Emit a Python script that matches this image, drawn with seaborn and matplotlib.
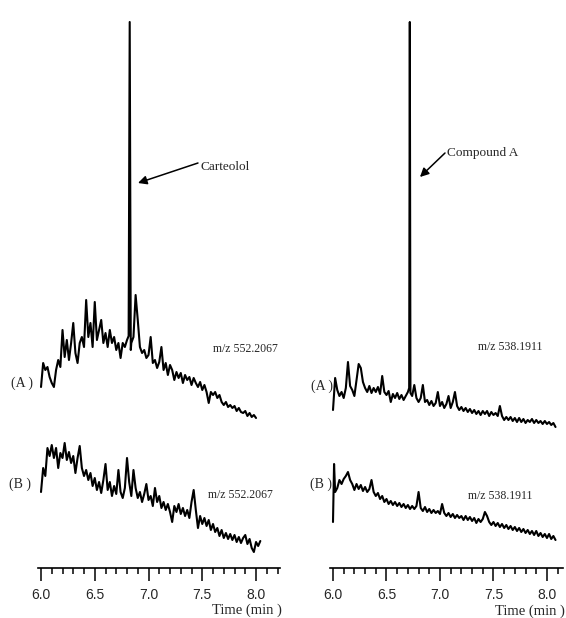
import matplotlib
matplotlib.use("Agg")
import matplotlib.pyplot as plt
import seaborn as sns
import pandas as pd
from matplotlib.ticker import FixedLocator

# ---------------- data (signal in arbitrary units) ----------------
time_la = [6.00, 6.02, 6.04, 6.06, 6.08, 6.10, 6.12, 6.14, 6.16, 6.18,
           6.20, 6.22, 6.24, 6.26, 6.28, 6.30, 6.32, 6.34, 6.36, 6.38,
           6.40, 6.42, 6.44, 6.46, 6.48, 6.50, 6.52, 6.54, 6.56, 6.58,
           6.60, 6.62, 6.64, 6.66, 6.68, 6.70, 6.72, 6.74, 6.76, 6.78,
           6.80, 6.815, 6.825, 6.835,
           6.84, 6.86, 6.88, 6.90, 6.92, 6.94, 6.96, 6.98, 7.00,
           7.02, 7.04, 7.06, 7.08, 7.10, 7.12, 7.14, 7.16, 7.18, 7.20,
           7.22, 7.24, 7.26, 7.28, 7.30, 7.32, 7.34, 7.36, 7.38, 7.40,
           7.42, 7.44, 7.46, 7.48, 7.50, 7.52, 7.54, 7.56, 7.58, 7.60,
           7.62, 7.64, 7.66, 7.68, 7.70, 7.72, 7.74, 7.76, 7.78, 7.80,
           7.82, 7.84, 7.86, 7.88, 7.90, 7.92, 7.94, 7.96, 7.98, 8.00]
signal_la = [181, 205, 198, 201, 191, 185, 181, 198, 208, 201,
             238, 211, 228, 208, 225, 245, 215, 205, 225, 231,
             221, 268, 231, 245, 221, 266, 228, 238, 248, 225,
             235, 221, 238, 225, 231, 218, 225, 210, 225, 221,
             228, 232, 546, 218,
             225, 231, 273, 248, 221, 215, 218, 210, 213,
             231, 205, 208, 200, 206, 221, 198, 205, 193, 203,
             198, 188, 196, 190, 195, 185, 193, 188, 191, 183,
             190, 185, 181, 186, 178, 183, 176, 165, 176, 173,
             176, 170, 173, 166, 163, 166, 161, 163, 160, 162,
             157, 160, 156, 155, 157, 152, 155, 151, 153, 150]

time_lb = [6.00, 6.02, 6.04, 6.06, 6.08, 6.10, 6.12, 6.14, 6.16, 6.18, 6.20,
           6.22, 6.24, 6.26, 6.28, 6.30, 6.32, 6.34, 6.36, 6.38, 6.40,
           6.42, 6.44, 6.46, 6.48, 6.50, 6.52, 6.54, 6.56, 6.58, 6.60,
           6.62, 6.64, 6.66, 6.68, 6.70, 6.72, 6.74, 6.76, 6.78, 6.80,
           6.82, 6.84, 6.86, 6.88, 6.90, 6.92, 6.94, 6.96, 6.98, 7.00,
           7.02, 7.04, 7.06, 7.08, 7.10, 7.12, 7.14, 7.16, 7.18, 7.20,
           7.22, 7.24, 7.26, 7.28, 7.30, 7.32, 7.34, 7.36, 7.38, 7.40,
           7.42, 7.44, 7.46, 7.48, 7.50, 7.52, 7.54, 7.56, 7.58, 7.60,
           7.62, 7.64, 7.66, 7.68, 7.70, 7.72, 7.74, 7.76, 7.78, 7.80,
           7.82, 7.84, 7.86, 7.88, 7.90, 7.92, 7.94, 7.96, 7.98, 8.00,
           8.02, 8.04]
signal_lb = [76, 100, 92, 120, 112, 123, 110, 120, 100, 115, 110,
             125, 108, 116, 105, 112, 95, 110, 122, 100, 92,
             98, 88, 95, 82, 90, 78, 86, 75, 88, 104,
             78, 86, 72, 82, 74, 98, 76, 70, 80, 110,
             86, 72, 98, 80, 70, 76, 66, 74, 84, 68,
             72, 62, 80, 66, 72, 60, 66, 58, 64, 56,
             46, 62, 56, 64, 54, 60, 52, 58, 50, 66,
             78, 58, 40, 52, 44, 50, 42, 48, 38, 44,
             36, 40, 32, 38, 30, 35, 29, 34, 28, 33,
             26, 31, 25, 30, 33, 24, 29, 20, 16, 26,
             22, 27]

time_ra = [6.00, 6.02, 6.04, 6.06, 6.08, 6.10,
           6.12, 6.14, 6.16, 6.18, 6.20, 6.22, 6.24, 6.26, 6.28, 6.30,
           6.32, 6.34, 6.36, 6.38, 6.40, 6.42, 6.44, 6.46, 6.48, 6.50,
           6.52, 6.54, 6.56, 6.58, 6.60, 6.62, 6.64, 6.66, 6.68, 6.70,
           6.712, 6.718, 6.724,
           6.74, 6.76, 6.78, 6.80,
           6.82, 6.84, 6.86, 6.88, 6.90, 6.92, 6.94, 6.96, 6.98, 7.00,
           7.02, 7.04, 7.06, 7.08, 7.10, 7.12, 7.14, 7.16, 7.18, 7.20,
           7.22, 7.24, 7.26, 7.28, 7.30, 7.32, 7.34, 7.36, 7.38, 7.40,
           7.42, 7.44, 7.46, 7.48, 7.50, 7.52, 7.54, 7.56, 7.58, 7.60,
           7.62, 7.64, 7.66, 7.68, 7.70, 7.72, 7.74, 7.76, 7.78, 7.80,
           7.82, 7.84, 7.86, 7.88, 7.90, 7.92, 7.94, 7.96, 7.98, 8.00,
           8.02, 8.04, 8.06, 8.08]
signal_ra = [158, 190, 178, 172, 176, 170,
             180, 206, 182, 178, 172, 188, 204, 200, 186, 180,
             176, 182, 175, 180, 176, 181, 174, 192, 176, 173,
             177, 166, 174, 170, 175, 169, 173, 168, 172, 176,
             180, 546, 175,
             172, 183, 170, 166,
             170, 183, 166, 168, 163, 167, 162, 165, 176, 162,
             166, 160, 164, 172, 160, 166, 176, 162, 158, 161,
             157, 160, 156, 159, 155, 158, 154, 157, 153, 157,
             154, 157, 152, 156, 153, 155, 152, 162, 152, 148,
             151, 148, 151, 147, 150, 146, 150, 146, 149, 145,
             148, 146, 149, 145, 148, 145, 147, 144, 147, 144,
             146, 143, 145, 141]

time_rb = [6.00, 6.01, 6.02, 6.04, 6.06, 6.08, 6.10,
           6.12, 6.14, 6.16, 6.18, 6.20, 6.22, 6.24, 6.26, 6.28, 6.30,
           6.32, 6.34, 6.36, 6.38, 6.40, 6.42, 6.44, 6.46, 6.48, 6.50,
           6.52, 6.54, 6.56, 6.58, 6.60, 6.62, 6.64, 6.66, 6.68, 6.70,
           6.72, 6.74, 6.76, 6.78, 6.80, 6.82, 6.84, 6.86, 6.88, 6.90,
           6.92, 6.94, 6.96, 6.98, 7.00, 7.02, 7.04, 7.06, 7.08, 7.10,
           7.12, 7.14, 7.16, 7.18, 7.20, 7.22, 7.24, 7.26, 7.28, 7.30,
           7.32, 7.34, 7.36, 7.38, 7.40, 7.42, 7.44, 7.46, 7.48, 7.50,
           7.52, 7.54, 7.56, 7.58, 7.60, 7.62, 7.64, 7.66, 7.68, 7.70,
           7.72, 7.74, 7.76, 7.78, 7.80, 7.82, 7.84, 7.86, 7.88, 7.90,
           7.92, 7.94, 7.96, 7.98, 8.00, 8.02, 8.04, 8.06, 8.08]
signal_rb = [46, 104, 76, 80, 88, 84, 89,
             92, 96, 88, 84, 78, 84, 79, 83, 77, 81,
             76, 79, 88, 76, 72, 75, 69, 72, 66, 69,
             64, 67, 63, 66, 62, 65, 61, 64, 60, 63,
             59, 62, 59, 62, 76, 60, 57, 61, 56, 59,
             55, 58, 55, 57, 54, 64, 55, 52, 55, 51,
             54, 50, 53, 50, 52, 48, 52, 48, 51, 47,
             50, 45, 49, 46, 49, 56, 52, 46, 43, 46,
             42, 45, 41, 44, 40, 43, 39, 42, 38, 41,
             37, 40, 36, 39, 35, 38, 34, 37, 33, 37,
             32, 35, 31, 34, 30, 34, 29, 32, 28]

tick_values = [6.0, 6.5, 7.0, 7.5, 8.0]
tick_labels = ["6.0", "6.5", "7.0", "7.5", "8.0"]
mz_left = "m/z 552.2067"
mz_right = "m/z 538.1911"

# ---------------- figure ----------------
sns.set_style("white")
plt.rcParams['font.family'] = ['Liberation Serif', 'DejaVu Serif']

W, H = 566, 618
fig = plt.figure(figsize=(W / 100, H / 100), dpi=100)


def px_axes(x0, x1, y_top, y_bottom):
    return fig.add_axes([x0 / W, 1 - y_bottom / H, (x1 - x0) / W, (y_bottom - y_top) / H])


axL = px_axes(38, 280, 0, 568)
axR = px_axes(330, 563, 0, 568)

traces = [
    (axL, time_la, signal_la),
    (axL, time_lb, signal_lb),
    (axR, time_ra, signal_ra),
    (axR, time_rb, signal_rb),
]
for ax, t, s in traces:
    df = pd.DataFrame({"time": t, "signal": s})
    sns.lineplot(data=df, x="time", y="signal", ax=ax, color="black",
                 linewidth=1.5, estimator=None, sort=False, legend=False)

for ax, xmax in ((axL, 8.223), (axR, 8.150)):
    ax.set_xlim(5.972, xmax)
    ax.set_ylim(0, 568)
    ax.patch.set_alpha(0)
    for side in ("left", "right", "top"):
        ax.spines[side].set_visible(False)
    ax.spines["bottom"].set_linewidth(1.2)
    ax.spines["bottom"].set_color("black")
    ax.set_yticks([])
    ax.set_xlabel("")
    ax.set_ylabel("")
    ax.set_xticks(tick_values)
    ax.set_xticklabels(tick_labels, fontfamily="Liberation Sans", fontsize=10)
    minors = [round(6.0 + 0.1 * i, 1) for i in range(0, 23)]
    ax.xaxis.set_minor_locator(FixedLocator([m for m in minors if m <= xmax]))
    ax.tick_params(axis="x", which="major", direction="out", length=9.5, width=1.1,
                   color="black", pad=5, bottom=True)
    ax.tick_params(axis="x", which="minor", direction="out", length=4.3, width=1.1,
                   color="black", bottom=True)

# m/z labels
axL.text(7.60, 219, mz_left, fontsize=8.5, va="center", ha="left")
axL.text(7.553, 73, mz_left, fontsize=8.5, va="center", ha="left")
axR.text(7.355, 221, mz_right, fontsize=8.5, va="center", ha="left")
axR.text(7.262, 72, mz_right, fontsize=8.5, va="center", ha="left")

# annotations
arrow_kw = dict(arrowstyle="-|>", color="black", lw=1.1, mutation_scale=13,
                shrinkA=0, shrinkB=0)
axL.annotate("", xy=(6.902, 385), xytext=(7.46, 405), arrowprops=arrow_kw)
axL.text(7.48, 401, "Carteolol", fontsize=9.5, va="center", ha="left")
axR.annotate("", xy=(6.813, 391), xytext=(7.047, 415), arrowprops=arrow_kw)
axR.text(7.065, 415, "Compound A", fontsize=9.5, va="center", ha="left")

# trace labels
def ftext(x, y, s, **kw):
    fig.text(x / W, 1 - y / H, s, **kw)


ftext(33, 383, "(A )", fontsize=10, ha="right", va="center")
ftext(31, 484, "(B )", fontsize=10, ha="right", va="center")
ftext(333, 386, "(A )", fontsize=10, ha="right", va="center")
ftext(332, 484, "(B )", fontsize=10, ha="right", va="center")

ftext(282, 610, "Time (min )", fontsize=10.5, ha="right", va="center")
ftext(565, 611, "Time (min )", fontsize=10.5, ha="right", va="center")

fig.savefig("out.png", dpi=100)
